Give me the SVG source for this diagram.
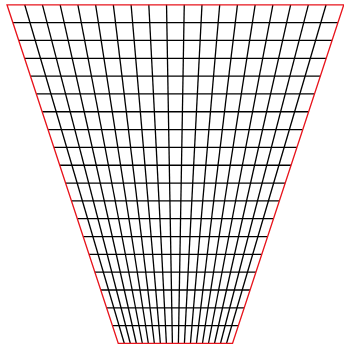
<svg xmlns="http://www.w3.org/2000/svg" width="344" height="344" viewBox="0 0 344 344">
<style>
.g{stroke:#000;stroke-width:1.3;fill:none}
.b{stroke:#e8141c;stroke-width:1.3;fill:none;stroke-linejoin:miter}
</style>
<rect width="344" height="344" fill="#fff"/>
<g id="vertical-lines" class="g">
<line x1="24.73" y1="4.8" x2="124.31" y2="343.5"/>
<line x1="42.45" y1="4.8" x2="130.32" y2="343.5"/>
<line x1="60.18" y1="4.8" x2="136.33" y2="343.5"/>
<line x1="77.90" y1="4.8" x2="142.34" y2="343.5"/>
<line x1="95.63" y1="4.8" x2="148.36" y2="343.5"/>
<line x1="113.36" y1="4.8" x2="154.37" y2="343.5"/>
<line x1="131.08" y1="4.8" x2="160.38" y2="343.5"/>
<line x1="148.81" y1="4.8" x2="166.39" y2="343.5"/>
<line x1="166.53" y1="4.8" x2="172.40" y2="343.5"/>
<line x1="184.26" y1="4.8" x2="178.41" y2="343.5"/>
<line x1="201.99" y1="4.8" x2="184.42" y2="343.5"/>
<line x1="219.71" y1="4.8" x2="190.43" y2="343.5"/>
<line x1="237.44" y1="4.8" x2="196.44" y2="343.5"/>
<line x1="255.16" y1="4.8" x2="202.45" y2="343.5"/>
<line x1="272.89" y1="4.8" x2="208.47" y2="343.5"/>
<line x1="290.62" y1="4.8" x2="214.48" y2="343.5"/>
<line x1="308.34" y1="4.8" x2="220.49" y2="343.5"/>
<line x1="326.07" y1="4.8" x2="226.50" y2="343.5"/>
</g>
<g id="horizontal-lines" class="g">
<line x1="12.86" y1="22.63" x2="337.94" y2="22.63"/>
<line x1="18.72" y1="40.45" x2="332.08" y2="40.45"/>
<line x1="24.57" y1="58.28" x2="326.23" y2="58.28"/>
<line x1="30.43" y1="76.10" x2="320.37" y2="76.10"/>
<line x1="36.29" y1="93.93" x2="314.51" y2="93.93"/>
<line x1="42.15" y1="111.76" x2="308.65" y2="111.76"/>
<line x1="48.01" y1="129.58" x2="302.79" y2="129.58"/>
<line x1="53.86" y1="147.41" x2="296.94" y2="147.41"/>
<line x1="59.72" y1="165.23" x2="291.08" y2="165.23"/>
<line x1="65.58" y1="183.06" x2="285.22" y2="183.06"/>
<line x1="71.44" y1="200.89" x2="279.36" y2="200.89"/>
<line x1="77.30" y1="218.71" x2="273.50" y2="218.71"/>
<line x1="83.15" y1="236.54" x2="267.65" y2="236.54"/>
<line x1="89.01" y1="254.36" x2="261.79" y2="254.36"/>
<line x1="94.87" y1="272.19" x2="255.93" y2="272.19"/>
<line x1="100.73" y1="290.02" x2="250.07" y2="290.02"/>
<line x1="106.59" y1="307.84" x2="244.21" y2="307.84"/>
<line x1="112.44" y1="325.67" x2="238.36" y2="325.67"/>
</g>
<g id="boundary">
<polygon class="b" points="7,4.8 343.8,4.8 232.5,343.5 118.3,343.5"/>
</g>
</svg>
